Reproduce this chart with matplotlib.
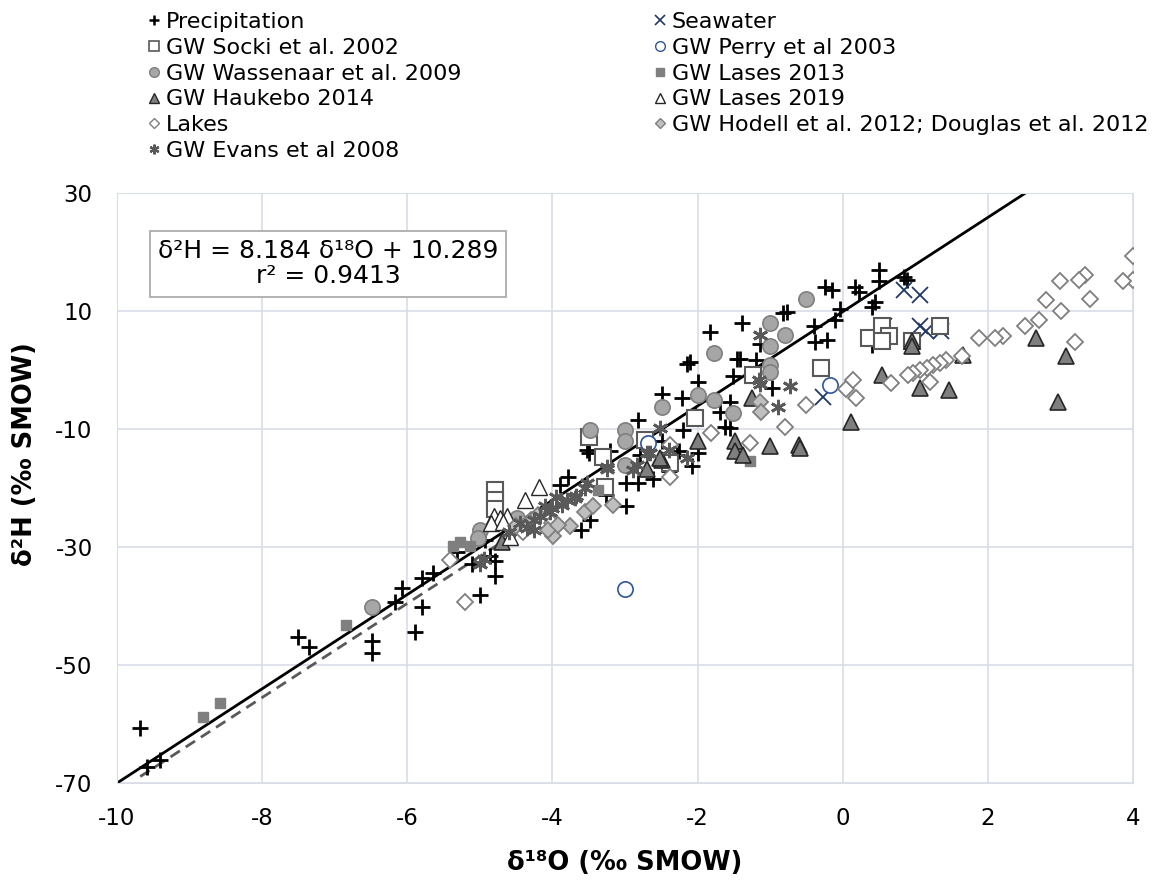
import numpy as np
import matplotlib.pyplot as plt
from matplotlib.lines import Line2D
from matplotlib.patches import Rectangle

plt.rcParams['axes.unicode_minus'] = False

# --- data (d18O, d2H) ---
precip_x = [-9.68, -9.59, -9.41, -7.50, -7.36, -6.49, -6.49, -6.17, -6.08, -5.89,
            -5.80, -5.80, -5.64, -5.32, -5.11, -5.00, -4.93, -4.86, -4.79, -4.79,
            -3.90, -3.78, -3.60, -3.48, -3.50, -3.52, -3.51, -3.26, -3.21, -2.98,
            -2.98, -2.82, -2.82, -2.79, -2.61, -2.49, -2.49, -2.40, -2.29, -2.26,
            -2.22, -2.20, -2.08, -2.04, -1.99, -1.99, -2.15, -2.10, -1.83, -1.69,
            -1.62, -1.55, -1.55, -1.51, -1.46, -1.41, -1.39, -1.19, -1.14, -0.98,
            -0.82, -0.77, -0.40, -0.38, -0.22, -0.11, -0.04, -0.24, -0.15, 0.17,
            0.22, 0.40, 0.45, 0.40, 0.50, 0.50, 0.85, 0.88]
precip_y = [-60.7, -67.2, -66.1, -45.2, -46.9, -46.0, -48.0, -39.3, -37.0, -44.4,
            -40.2, -35.3, -34.4, -30.8, -32.8, -38.2, -28.8, -31.6, -32.4, -35.0,
            -19.5, -18.1, -27.1, -25.4, -14.1, -13.5, -12.1, -21.2, -13.8, -19.2,
            -23.1, -19.2, -8.5, -14.4, -18.4, -4.0, -12.1, -17.2, -14.4, -13.8,
            -4.8, -10.2, -16.3, -7.6, -14.1, -2.0, 1.0, 1.4, 6.5, -7.1,
            -9.7, -5.4, -9.9, -1.1, 1.8, 1.9, 7.9, 1.7, 4.4, -3.1,
            9.6, 9.9, 7.4, 4.8, 5.1, 8.4, 10.4, 14.1, 13.5, 14.1,
            13.2, 10.7, 11.5, 4.3, 17.0, 15.0, 15.8, 15.3]

sea_x = [0.85, 1.06, 0.57, 1.06, 1.15, 1.36, -0.27]
sea_y = [13.5, 12.7, 7.5, 7.5, 6.6, 6.6, -4.6]

socki_x = [0.36, 0.54, 0.64, 0.54, 0.96, 1.34, -0.30, -1.23, -2.04, -2.72,
           -3.28, -3.50, -3.30, -4.79, -4.79, -4.79, -2.38]
socki_y = [5.5, 7.5, 5.8, 4.9, 4.9, 7.5, 0.3, -0.8, -8.2, -11.9,
           -19.8, -11.3, -14.7, -20.3, -22.0, -23.6, -15.8]

perry_x = [-3.0, -0.18, -2.68]
perry_y = [-37.2, -2.6, -12.4]

wass_x = [-0.50, -1.0, -0.80, -1.0, -1.0, -1.0, -1.78, -1.99, -1.78, -1.51,
          -2.49, -3.0, -3.48, -3.0, -3.0, -5.0, -4.49, -6.49, -5.03]
wass_y = [12.0, 7.9, 5.9, 4.0, 0.8, -0.3, 2.8, -4.2, -5.1, -7.3,
          -6.2, -10.2, -10.2, -12.1, -16.1, -27.1, -25.1, -40.1, -28.5]

lases13_x = [-8.81, -8.58, -6.84, -5.27, -5.37, -5.14, -3.37, -1.28]
lases13_y = [-58.8, -56.5, -43.3, -29.1, -29.9, -29.9, -20.4, -15.4]

hauk_x = [2.67, 3.07, 2.97, 1.66, 0.95, 0.95, 0.54, 1.06, 1.46, 0.12,
          -1.0, -0.60, -0.59, -1.25, -1.99, -1.48, -1.48, -1.37, -2.70, -2.49,
          -2.52, -4.70]
hauk_y = [5.5, 2.3, -5.4, 2.6, 4.9, 4.0, -0.8, -3.1, -3.4, -8.9,
          -12.9, -12.7, -13.2, -4.8, -12.1, -12.1, -13.8, -14.4, -16.7, -15.3,
          -15.0, -29.1]

lases19_x = [-4.38, -4.19, -4.81, -4.72, -4.63, -4.58, -4.84, -4.68]
lases19_y = [-22.0, -19.8, -24.8, -25.1, -24.8, -28.3, -26.0, -25.8]

lakes_x = [4.0, 4.0, 3.86, 3.34, 3.25, 2.99, 3.41, 3.01, 3.20, 2.80,
           2.71, 2.51, 2.21, 2.10, 1.88, 1.64, 1.43, 1.34, 1.25, 1.16,
           1.06, 0.97, 0.90, 1.20, 0.67, 0.18, 0.05, 0.14, -0.50, -0.80,
           -1.28, -1.81, -2.38, -2.38, -5.20, -5.41, -4.40, -4.00]
lakes_y = [19.3, 15.3, 15.0, 16.1, 15.3, 15.0, 12.0, 10.0, 4.8, 11.9,
           8.5, 7.5, 5.8, 5.4, 5.4, 2.3, 1.7, 1.2, 0.8, 0.4,
           0.0, -0.5, -0.9, -2.0, -2.2, -4.8, -3.3, -1.7, -5.9, -9.7,
           -12.4, -10.7, -18.1, -12.7, -39.3, -32.2, -27.5, -26.0]

hodell_x = [-3.16, -3.55, -3.44, -3.76, -3.99, -4.06, -3.92, -1.14, -1.12, -4.30,
            -4.50, -4.20]
hodell_y = [-22.9, -24.0, -23.1, -26.5, -28.2, -27.1, -26.3, -5.5, -7.1, -25.5,
            -26.5, -24.5]

evans_x = [-1.14, -1.16, -0.73, -0.89, -1.14, -2.52, -2.15, -2.84, -2.66, -3.25,
           -3.55, -3.69, -3.87, -4.03, -4.26, -4.26, -4.35, -5.00, -4.95, -2.70,
           -2.89, -3.25, -3.53, -3.67, -4.01, -4.17, -4.45, -4.60, -3.80, -3.95,
           -4.10, -2.40]
evans_y = [5.9, -1.7, -2.8, -6.2, -2.3, -9.9, -15.0, -16.1, -14.1, -16.7,
           -20.0, -21.7, -22.9, -24.0, -25.4, -27.1, -26.8, -32.8, -32.0, -14.1,
           -17.0, -16.4, -19.2, -21.4, -23.4, -24.8, -26.0, -27.5, -22.0, -21.5,
           -23.0, -13.5]

# trend line as drawn, and dashed reference line
fit_x = [-10.0, 2.52]
fit_y = [-70.0, 30.0]
ref_x = [-9.68, -4.5]
ref_y = [-68.9, -27.6]

fig = plt.figure(figsize=(11.52, 8.81), dpi=100)
ax = fig.add_axes([0.1016, 0.1112, 0.8819, 0.6698])

grid_c = '#d9dde6'
ax.grid(True, color=grid_c, lw=1.2)
ax.set_axisbelow(True)
for s in ax.spines.values():
    s.set_color(grid_c)

ax.plot(fit_x, fit_y, color='black', lw=2, zorder=2)
ax.plot(ref_x, ref_y, color='#595959', lw=2, ls=(0, (4, 2.5)), zorder=2)

ms = 11
ax.plot(precip_x, precip_y, ls='', marker='+', ms=ms, mew=2, color='black', zorder=3)
ax.plot(sea_x, sea_y, ls='', marker='x', ms=ms, mew=1.3, color='#203864', zorder=3)
ax.plot(socki_x, socki_y, ls='', marker='s', ms=ms, mfc='white', mec='#595959', mew=1.5, zorder=3)
ax.plot(perry_x, perry_y, ls='', marker='o', ms=ms, mfc='white', mec='#2f5597', mew=1.2, zorder=3)
ax.plot(wass_x, wass_y, ls='', marker='o', ms=ms, mfc='#a6a6a6', mec='#7f7f7f', mew=1.2, zorder=3)
ax.plot(lases13_x, lases13_y, ls='', marker='s', ms=7.5, mfc='#7f7f7f', mec='#7f7f7f', zorder=3)
ax.plot(hauk_x, hauk_y, ls='', marker='^', ms=ms, mfc='#7f7f7f', mec='#262626', mew=1.2, zorder=3)
ax.plot(lases19_x, lases19_y, ls='', marker='^', ms=ms, mfc='white', mec='#262626', mew=1, zorder=3)
ax.plot(lakes_x, lakes_y, ls='', marker='D', ms=8.5, mfc='white', mec='#7f7f7f', mew=1.3, zorder=3)
ax.plot(hodell_x, hodell_y, ls='', marker='D', ms=8.5, mfc='#bfbfbf', mec='#7f7f7f', mew=1.3, zorder=3)
ax.plot(evans_x, evans_y, ls='', marker=(6, 2, 0), ms=ms, mew=2, color='#595959', zorder=3)

ax.set_xlim(-10, 4)
ax.set_ylim(-70, 30)
ax.set_xticks(np.arange(-10, 5, 2))
ax.set_yticks(np.arange(-70, 31, 20))
ax.tick_params(length=0, labelsize=16.5, pad=17.5)
ax.set_xlabel('δ¹⁸O (‰ SMOW)', fontsize=18.5, fontweight='bold')
ax.set_ylabel('δ²H (‰ SMOW)', fontsize=18.5, fontweight='bold')
ax.xaxis.set_label_coords(0.5, -0.1136)
ax.yaxis.set_label_coords(-0.0778, 0.5576)

# equation box
ax.add_patch(Rectangle((0.0327, 0.824), 0.350, 0.112, transform=ax.transAxes,
                       fc='white', ec='#a6a6a6', lw=1.2, zorder=4))
ax.text(0.2077, 0.880, 'δ²H = 8.184 δ¹⁸O + 10.289\nr² = 0.9413', transform=ax.transAxes,
        ha='center', va='center', fontsize=18, linespacing=1.05, zorder=5)

# legends, two manual columns
def h(**kw):
    return Line2D([], [], ls='', **kw)

lm = 7
left_h = [h(marker='+', ms=lm, mew=1.8, color='black'),
          h(marker='s', ms=lm, mfc='white', mec='#595959', mew=1.2),
          h(marker='o', ms=lm, mfc='#a6a6a6', mec='#7f7f7f'),
          h(marker='^', ms=lm, mfc='#7f7f7f', mec='#262626'),
          h(marker='D', ms=5.5, mfc='white', mec='#7f7f7f'),
          h(marker=(6, 2, 0), ms=lm, mew=1.6, color='#595959')]
left_l = ['Precipitation', 'GW Socki et al. 2002', 'GW Wassenaar et al. 2009',
          'GW Haukebo 2014', 'Lakes', 'GW Evans et al 2008']
right_h = [h(marker='x', ms=lm, mew=1.2, color='#203864'),
           h(marker='o', ms=lm, mfc='white', mec='#2f5597'),
           h(marker='s', ms=5.5, mfc='#7f7f7f', mec='#7f7f7f'),
           h(marker='^', ms=lm, mfc='white', mec='#262626'),
           h(marker='D', ms=5.5, mfc='#bfbfbf', mec='#7f7f7f')]
right_l = ['Seawater', 'GW Perry et al 2003', 'GW Lases 2013', 'GW Lases 2019',
           'GW Hodell et al. 2012; Douglas et al. 2012']

common = dict(loc='upper left', frameon=False, fontsize=16, borderpad=0,
              handlelength=0.55, handletextpad=0.25, labelspacing=0.26)
fig.legend(left_h, left_l, bbox_to_anchor=(0.119, 0.999), **common)
fig.legend(right_h, right_l, bbox_to_anchor=(0.558, 0.999), **common)

fig.savefig('out.png', dpi=100)
